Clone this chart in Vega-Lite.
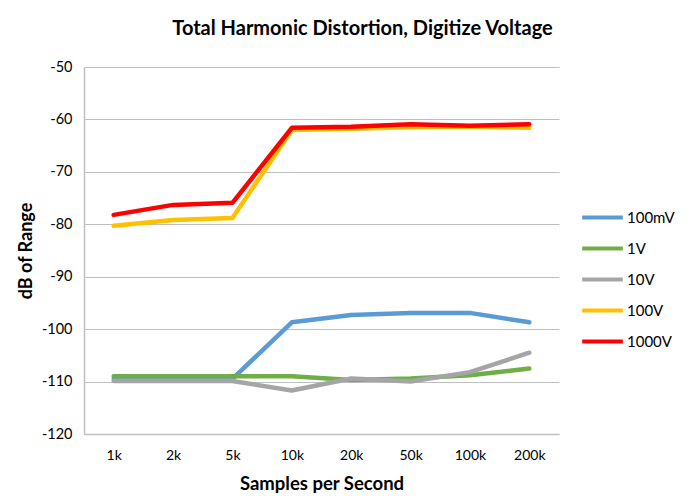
{
  "$schema": "https://vega.github.io/schema/vega-lite/v6.json",
  "width": 475,
  "height": 367,
  "autosize": {"type": "none"},
  "padding": {"left": 84, "top": 67, "right": 130, "bottom": 62},
  "background": "white",
  "title": {
    "text": "Total Harmonic Distortion, Digitize Voltage",
    "font": "Lato",
    "fontSize": 20,
    "fontWeight": "bold",
    "color": "#000000",
    "anchor": "middle",
    "dx": 41,
    "offset": 20
  },
  "data": {
    "values": [
      {"series": "100mV", "rate": "1k", "value": -109.5},
      {"series": "100mV", "rate": "2k", "value": -109.5},
      {"series": "100mV", "rate": "5k", "value": -109.5},
      {"series": "100mV", "rate": "10k", "value": -98.7},
      {"series": "100mV", "rate": "20k", "value": -97.3},
      {"series": "100mV", "rate": "50k", "value": -96.9},
      {"series": "100mV", "rate": "100k", "value": -96.9},
      {"series": "100mV", "rate": "200k", "value": -98.7},
      {"series": "1V", "rate": "1k", "value": -109.0},
      {"series": "1V", "rate": "2k", "value": -109.0},
      {"series": "1V", "rate": "5k", "value": -109.0},
      {"series": "1V", "rate": "10k", "value": -109.0},
      {"series": "1V", "rate": "20k", "value": -109.7},
      {"series": "1V", "rate": "50k", "value": -109.4},
      {"series": "1V", "rate": "100k", "value": -108.8},
      {"series": "1V", "rate": "200k", "value": -107.5},
      {"series": "10V", "rate": "1k", "value": -109.9},
      {"series": "10V", "rate": "2k", "value": -109.9},
      {"series": "10V", "rate": "5k", "value": -109.9},
      {"series": "10V", "rate": "10k", "value": -111.7},
      {"series": "10V", "rate": "20k", "value": -109.4},
      {"series": "10V", "rate": "50k", "value": -110.0},
      {"series": "10V", "rate": "100k", "value": -108.2},
      {"series": "10V", "rate": "200k", "value": -104.5},
      {"series": "100V", "rate": "1k", "value": -80.3},
      {"series": "100V", "rate": "2k", "value": -79.2},
      {"series": "100V", "rate": "5k", "value": -78.8},
      {"series": "100V", "rate": "10k", "value": -62.0},
      {"series": "100V", "rate": "20k", "value": -61.8},
      {"series": "100V", "rate": "50k", "value": -61.5},
      {"series": "100V", "rate": "100k", "value": -61.4},
      {"series": "100V", "rate": "200k", "value": -61.6},
      {"series": "1000V", "rate": "1k", "value": -78.2},
      {"series": "1000V", "rate": "2k", "value": -76.3},
      {"series": "1000V", "rate": "5k", "value": -75.9},
      {"series": "1000V", "rate": "10k", "value": -61.6},
      {"series": "1000V", "rate": "20k", "value": -61.4},
      {"series": "1000V", "rate": "50k", "value": -60.9},
      {"series": "1000V", "rate": "100k", "value": -61.2},
      {"series": "1000V", "rate": "200k", "value": -60.9}
    ]
  },
  "mark": {"type": "line", "strokeWidth": 4.5, "strokeCap": "round", "strokeJoin": "round"},
  "encoding": {
    "x": {
      "field": "rate",
      "type": "ordinal",
      "sort": ["1k", "2k", "5k", "10k", "20k", "50k", "100k", "200k"],
      "scale": {"type": "point", "padding": 0.5},
      "axis": {
        "title": "Samples per Second",
        "titleFont": "Lato",
        "titleFontSize": 18.5,
        "titleFontWeight": "bold",
        "titleColor": "#000000",
        "titlePadding": 12,
        "labelFont": "Lato",
        "labelFontSize": 14,
        "labelColor": "#000000",
        "labelPadding": 14,
        "labelAngle": 0,
        "ticks": false,
        "domainColor": "#c0c0c0",
        "domainWidth": 1.5,
        "grid": false
      }
    },
    "y": {
      "field": "value",
      "type": "quantitative",
      "scale": {"domain": [-120, -50], "nice": false, "zero": false},
      "axis": {
        "title": "dB of Range",
        "titleFont": "Lato",
        "titleFontSize": 18,
        "titleFontWeight": "bold",
        "titleColor": "#000000",
        "titlePadding": 6,
        "labelFont": "Lato",
        "labelFontSize": 14.5,
        "labelColor": "#000000",
        "labelPadding": 12,
        "labelExpr": "datum.value + ''",
        "values": [-120, -110, -100, -90, -80, -70, -60, -50],
        "ticks": false,
        "domainColor": "#c0c0c0",
        "domainWidth": 1.5,
        "grid": true,
        "gridColor": "#bfbfbf",
        "gridWidth": 1.2
      }
    },
    "color": {
      "field": "series",
      "type": "nominal",
      "scale": {
        "domain": ["100mV", "1V", "10V", "100V", "1000V"],
        "range": ["#5b9bd5", "#70ad47", "#a5a5a5", "#ffc000", "#ff0000"]
      },
      "legend": {
        "title": null,
        "orient": "none",
        "legendX": 496,
        "legendY": 128,
        "symbolType": "stroke",
        "symbolSize": 1650,
        "symbolStrokeWidth": 4,
        "labelFont": "Lato",
        "labelFontSize": 15,
        "labelColor": "#000000",
        "labelOffset": 2,
        "rowPadding": -10
      }
    }
  },
  "config": {"view": {"stroke": null}}
}
